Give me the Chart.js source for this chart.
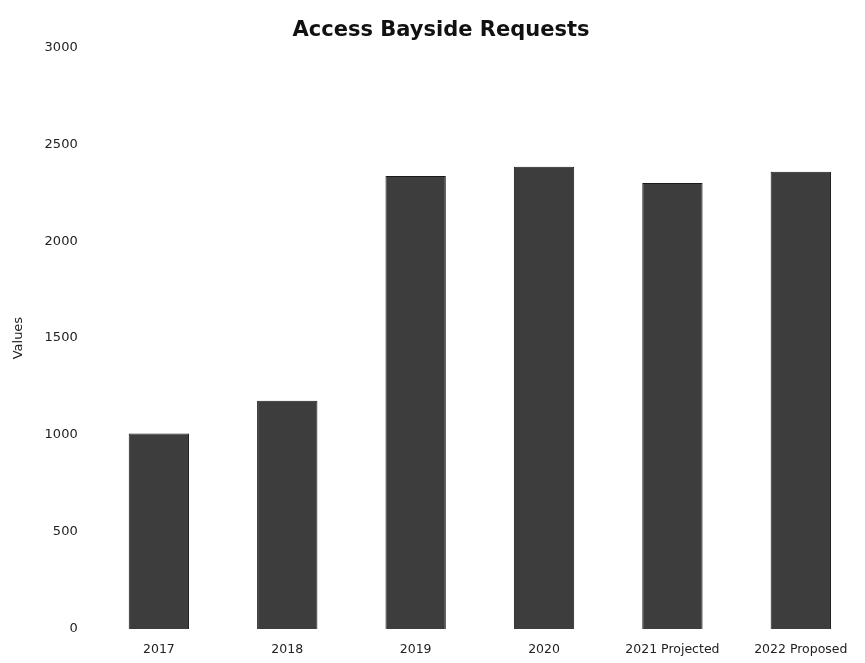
<!DOCTYPE html>
<html>
<head>
<meta charset="utf-8">
<script src="https://cdn.jsdelivr.net/npm/chart.js@4"></script>
<style>
  html, body { margin: 0; padding: 0; background: #fff; }
  #wrap { width: 865px; height: 663px; }
</style>
</head>
<body>
<div id="wrap"><canvas id="requestsChart" width="865" height="663"></canvas></div>
<script>
const categories = ["2017", "2018", "2019", "2020", "2021 Projected", "2022 Proposed"];
const requestValues = [1008, 1177, 2336, 2384, 2300, 2358];
const yTicks = [0, 500, 1000, 1500, 2000, 2500, 3000];

Chart.defaults.font.family = "\"DejaVu Sans\", sans-serif";
Chart.defaults.color = "#222";

new Chart(document.getElementById("requestsChart"), {
  type: "bar",
  data: {
    labels: categories,
    datasets: [
      {
        label: "Requests",
        data: requestValues,
        backgroundColor: "#3d3d3d",
        borderColor: "#1a1a1a",
        borderWidth: 1,
        barPercentage: 0.94,
        categoryPercentage: 0.5
      }
    ]
  },
  options: {
    responsive: false,
    animation: false,
    layout: { padding: { top: 8, right: -10, left: 7, bottom: -7 } },
    plugins: {
      legend: { display: false },
      tooltip: { enabled: false },
      title: {
        display: true,
        text: "Access Bayside Requests",
        color: "#111",
        font: { size: 21, weight: "bold" },
        padding: { top: 10, bottom: 4 }
      }
    },
    scales: {
      x: {
        grid: { display: false, drawTicks: false },
        border: { display: false },
        ticks: { color: "#222", font: { size: 12.5 }, padding: 13, maxRotation: 0 }
      },
      y: {
        min: 0,
        max: 3000,
        afterBuildTicks: (axis) => {
          axis.ticks = yTicks.map((v) => ({ value: v }));
        },
        grid: { display: false, drawTicks: false },
        border: { display: false },
        title: { display: true, text: "Values", color: "#222", font: { size: 13 }, padding: { bottom: 1 } },
        ticks: { color: "#222", font: { size: 13 }, padding: 17, callback: (v) => String(v) }
      }
    }
  }
});
</script>
</body>
</html>
